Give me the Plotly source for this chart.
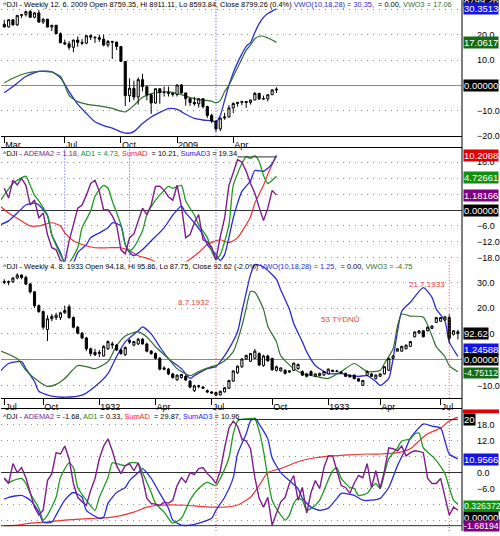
import plotly.graph_objects as go

W, H = 500, 536

# week index 0 = first bar of each price panel
# ^DJI weekly, 28.3.2008 - 12.6.2009
p1_weeks = list(range(64))
p1_open = [12361, 12216, 12609, 12325, 12849, 12891, 13058, 12745, 12986, 12480,
           12638, 12209, 12307, 11843, 11347, 11288, 11100, 11496, 11370, 11326,
           11734, 11659, 11628, 11543, 11220, 11421, 11388, 11143, 10325, 8451,
           8852, 8378, 9325, 8943, 8497, 8046, 8829, 8635, 8629, 8579,
           8515, 9034, 8599, 8281, 8077, 8001, 8280, 7850, 7366, 7063,
           6627, 7224, 7279, 7776, 8018, 8083, 8131, 8076, 8212, 8575,
           8268, 8277, 8500, 8759.35]
p1_high = [12600, 12650, 12640, 12870, 12900, 13100, 13140, 13030, 13140, 12700,
           12660, 12330, 12330, 11920, 11520, 11440, 11520, 11700, 11550, 11780,
           11810, 11680, 11800, 11790, 11500, 11450, 11400, 11150, 10330, 9400,
           9270, 9450, 9650, 9000, 8530, 8830, 8830, 8950, 8950, 8600,
           9070, 9090, 8610, 8300, 8380, 8300, 8320, 7900, 7460, 7070,
           7250, 7510, 7930, 8080, 8100, 8160, 8160, 8230, 8650, 8600,
           8450, 8520, 8800, 8911.11]
p1_low = [12200, 12180, 12300, 12270, 12700, 12790, 12700, 12690, 12450, 12380,
          12190, 11990, 11830, 11330, 11220, 10960, 10830, 11130, 11220, 11270,
          11500, 11340, 11400, 11150, 11100, 10460, 10950, 10300, 7880, 8100,
          8200, 7960, 8690, 8200, 7450, 8000, 8000, 8400, 8400, 8400,
          8400, 8550, 7900, 7900, 7900, 7800, 7750, 7230, 6950, 6470,
          6500, 7130, 7250, 7490, 7850, 7920, 7780, 7960, 8200, 8210,
          8220, 8140, 8480, 8593.84]
p1_close = [12216, 12609, 12325, 12849, 12891, 13058, 12745, 12986, 12480, 12638,
            12209, 12307, 11843, 11347, 11288, 11100, 11496, 11370, 11326, 11734,
            11659, 11628, 11543, 11220, 11421, 11388, 11143, 10325, 8451, 8852,
            8378, 9325, 8943, 8497, 8046, 8829, 8635, 8629, 8579, 8515,
            9034, 8599, 8281, 8077, 8001, 8280, 7850, 7366, 7063, 6627,
            7224, 7279, 7776, 8018, 8083, 8131, 8076, 8212, 8575, 8268,
            8277, 8500, 8764, 8799.26]

# ^DJI weekly, 31.7.1931 - 4.8.1933
p3_weeks = list(range(106))
p3_open = [136, 135.5, 136, 139, 141.5, 139.5, 134, 127.5, 116, 111,
           96, 105, 106, 106, 110, 115, 106, 98, 93, 89,
           80, 77, 76, 74, 80, 83, 83, 79, 75, 87,
           83, 84, 88, 84, 78, 76, 72, 64, 63, 59,
           54, 56, 57, 53, 45, 48.5, 48, 45, 44, 43.5,
           41.5, 44, 47, 53, 60, 65, 71.5, 69.5, 72, 76,
           66, 74, 72, 62, 61.5, 62, 60.5, 62, 63.5, 61,
           59, 61, 57, 57.5, 58, 59, 61, 61.5, 60.5, 59.5,
           58, 58, 55, 49.5, 58, 59, 55, 57, 59, 62,
           72, 78, 78, 80, 82, 90, 93, 95, 95, 97,
           102, 103, 104, 106, 92, 94.18]
p3_high = [138, 137, 140, 143, 142, 141, 135, 128, 117, 112,
           108, 109, 110, 111, 116, 117, 107, 99, 94, 90,
           81, 80, 79, 83, 87, 86, 84, 80, 82, 88,
           86.5, 89, 89, 85, 79, 77, 73, 65.5, 64, 60,
           58.5, 59, 58, 54, 50, 50, 49, 46, 44.5, 44,
           45, 48, 54, 62, 66, 72, 75, 76.5, 79.9, 77,
           75, 75, 72.5, 66, 64.5, 63, 62, 68.5, 67.5, 62,
           60, 62, 59.5, 60, 61.5, 63.5, 62.5, 62.5, 61.5, 60,
           58.5, 58.5, 55.5, 54, 62, 60, 58.5, 59.5, 65.5, 72.5,
           74.5, 80.5, 82.5, 83.5, 86.5, 94.5, 95.5, 95.5, 98.5, 99.5,
           106.5, 106.5, 107.5, 108.7, 95.5, 95.86]
p3_low = [134, 133, 135, 138, 138, 133, 126, 114, 110, 96,
          86.5, 103, 104, 104, 109, 105, 97, 92, 88, 78,
          73.8, 74, 73, 73.5, 79, 80, 78, 75, 74, 84,
          82, 83, 83.5, 77, 75, 71, 62, 62, 58, 55,
          53.5, 55, 53, 47, 44, 47, 46.5, 43, 42.5, 40.6,
          41, 43.5, 46.5, 52.5, 59, 64, 70.5, 69, 71.5, 65.5,
          65, 69, 61.5, 61, 61, 58.5, 60, 61.5, 62.5, 57.5,
          56, 57.5, 56.5, 57, 57.5, 58.5, 60.5, 60.5, 59.5, 56.5,
          56, 54.5, 52.5, 49, 57.5, 56.5, 54.5, 56.5, 58.5, 61.5,
          71.5, 77.5, 77.5, 79.5, 81.5, 89.5, 92.5, 89.5, 94.5, 96.5,
          101.5, 102.5, 103.5, 84.5, 91, 87.75]
p3_close = [135.5, 136, 139, 141.5, 139.5, 134, 127.5, 116, 111, 98,
            105, 107, 108, 110, 112, 106, 98, 93, 89, 80,
            76, 75, 77, 82, 86, 84, 79, 76, 81, 85.5,
            86, 88, 84, 78, 76, 72, 63, 63, 59, 56,
            58, 58.5, 54, 48, 49, 49, 47, 44, 43, 41.2,
            44.5, 47.5, 53.5, 61.5, 65.5, 71.5, 74.5, 76, 78, 66.5,
            74, 70, 62.5, 65, 64, 59.5, 61.5, 68, 67, 58,
            57, 58, 59, 59.5, 61, 63, 62, 61, 60, 57,
            56.5, 55, 53, 53.5, 61, 57, 58, 59, 65, 72,
            74, 80, 82, 83, 86, 94, 95, 90, 98, 99,
            106, 106, 106.5, 88.7, 95, 92.62]

p1_ticks = [0, 14, 27, 40, 53]
p1_tick_text = ["Mar", "Jul", "Oct", "2009", "Apr"]
p3_ticks = [0, 9, 22, 35, 48, 62, 75, 87, 101]
p3_tick_text = ["Jul", "Oct", "1932", "Apr", "Jul", "Oct", "1933", "Apr", "Jul"]

# VWO(10,18,28) and VWO3, 2008-09
p1_vwo_w = [0, 2, 5, 8, 11, 13, 15, 17, 19, 21, 23, 25, 27, 28, 29, 30, 32, 34, 36, 38,
            40, 42, 44, 46, 48, 49, 50, 51, 52, 53, 54, 55, 56, 57, 58, 59, 60, 61, 62, 63]
p1_vwo = [-3, -0.5, 3.5, 5.5, 5.3, 3, -2.5, -7.5, -11.2, -14.5, -16, -17, -18.5, -19, -19, -18.4,
          -15.2, -12.6, -10.8, -9.3, -9.6, -11.5, -13.2, -13.8, -14.1, -14.5, -12, -6, 0, 5,
          9, 12.5, 15.5, 17, 21, 24.5, 27, 28.5, 29.5, 30.35]
p1_vwo3_w = [0, 2, 5, 8, 11, 13, 14, 15, 16, 17, 19, 21, 23, 25, 27, 28, 29, 30, 32, 34, 36, 38,
             40, 42, 44, 46, 48, 49, 50, 51, 52, 53, 54, 55, 56, 57, 58, 59, 60, 61, 62, 63]
p1_vwo3 = [1, 2.8, 4.8, 5.5, 5.3, 3.5, 0, -4, -5.5, -6.5, -7.5, -8, -8.5, -9.2, -10.3, -10.6,
           -9.5, -8, -4.8, -3.3, -2.7, -2.6, -3.2, -4.3, -5.3, -5.9, -6.3, -7, -6, -2.5, 0,
           3.5, 7, 10.5, 14, 16, 18.5, 19.5, 19.5, 18.8, 18, 17.06]

# ADEMA2 / AD1 / SumAD / SumAD3, 2008-09
p2_adema2_w = list(range(64))
p2_adema2 = [8.2, 4.5, 11.2, 9.5, 11.9, 9.3, 1.9, 3.8, -3, -1.1,
             -9.2, -14.2, -15, -19, -19.8, -11.6, -5.6, 0.7, 1.9, 5.6,
             10, 11.2, 7, 0, 0.1, -2.2, -5.6, -15, -16.5, -10.4,
             -9, -3.7, 0.7, -1.7, 1.9, 8.9, 9, 7.4, 5, 3.7,
             9.3, 1.5, -10.4, -9.2, -4.8, -1.7, -11.2, -12, -14, -18.7,
             -10, -3, 9.3, 14, 19, 18, 14.6, 10, 6.3, 1,
             -4, 0.7, 7.4, 5.6]
p2_ad1_w = [-1, 1, 2, 3, 5, 6, 7, 8, 10, 11, 13, 14, 15, 17, 18, 20, 21, 23, 24, 25,
            27, 28, 29, 30, 32, 33, 35, 37, 38, 39, 41, 42, 44, 45, 47, 48, 49, 50, 52, 53,
            55, 56, 57, 58, 59, 60, 61, 62, 63]
p2_ad1 = [3.4, 8, 10, 11.2, 12.7, 9.3, 5.6, 3.4, -1.9, -9.3,
          -16.8, -19.8, -19.8, -14.2, -6.7, -0.4, 5.2, 9.3, 8.2, 3.4,
          -5.6, -13, -15.4, -14, -7.8, -1.9, 3.7, 7.4, 8.9, 8.2,
          9.3, 3.4, -1.9, -5.6, -10.4, -15.4, -18.7, -16.8, -5.6, 9.3,
          17.5, 20.1, 19.4, 20.5, 18.3, 13, 10, 11.2, 12.7]
p2_sumad_w = [-1, 1, 4, 6, 8, 11, 13, 14, 16, 18, 21, 24, 27, 29, 31, 34, 36, 39, 42, 45,
              47, 50, 52, 54, 57, 58, 60, 61, 63]
p2_sumad = [1.5, -1.1, -4.1, -6, -6, -4.8, -6, -8.6, -11.6, -13,
            -14.2, -14.2, -14.2, -15.4, -17.2, -18.7, -20.5, -21, -19.5, -16,
            -13, -11.2, -12.3, -10.4, -2.5, 2.6, 9.3, 13.5, 20.5]
p2_sumad3_w = [-1, 1, 3, 5, 7, 8, 10, 11, 13, 14, 16, 17, 19, 20, 22, 24, 25, 27, 28, 29,
               30, 32, 34, 37, 39, 41, 42, 44, 46, 47, 49, 50, 51, 52, 53, 54, 55, 57, 58, 60,
               61, 62, 63]
p2_sumad3 = [-5.6, -4.1, -1.1, 1.9, 2.6, 1.9, -2.2, -9.3, -16, -19.8,
             -19.8, -16, -13, -10.4, -8.6, -6.7, -4.8, -6, -13, -16,
             -17.2, -14.9, -11.6, -6.7, -1.9, 1.5, -1.1, -4.8, -9.3, -13,
             -16.8, -19, -16.8, -10.4, -3, 2.6, 7, 11, 14.9, 14.6,
             15.7, 17.5, 20.5]

# VWO(10,18,28) and VWO3, 1931-33
p3_vwo_w = [-1, 1, 4, 5, 7, 8, 11, 14, 18, 21, 24, 26, 28, 31, 32, 34, 36, 38, 41, 43,
            44, 47, 49, 50, 52, 54, 55, 56, 57, 58, 60, 63, 64, 66, 67, 69, 70, 72, 75, 78,
            80, 82, 84, 86, 87, 89, 90, 91, 92, 94, 97, 99, 100, 102, 103, 105]
p3_vwo = [-4.6, -1.5, -0.8, -3.5, -8.5, -12.3, -14.2, -14.6, -13.8, -10.4,
          -5.4, 1.2, 6.9, 11.2, 12.7, 10, 5, 0.4, -3.5, -7.3,
          -6.2, -3.5, -2.7, -0.8, 4.2, 10.8, 18.5, 26, 33, 36.9,
          36, 31.2, 27, 19.6, 14, 6.9, 3, -2.3, -5.4, -5.4,
          -6.2, -6.5, -6.2, -8.5, -10, -7.3, 0.4, 10.8, 18.8, 22.3,
          28, 24.2, 19.6, 15, 6.9, 1.25]
p3_vwo3_w = [-1, 3, 5, 8, 10, 12, 14, 17, 19, 21, 24, 26, 28, 31, 33, 35, 38, 40, 43, 45,
             48, 49, 51, 53, 55, 56, 57, 58, 60, 61, 63, 64, 67, 69, 72, 75, 78, 81, 84, 87,
             88, 90, 91, 92, 94, 97, 99, 100, 102, 103, 105]
p3_vwo3 = [3.5, 0.4, -4.2, -8.5, -10.4, -9.6, -7.3, -2.3, -2.7, -3.5,
           -0.8, 5.4, 9.2, 10.8, 8.8, 5, 0.4, -3.5, -6.2, -4.6,
           -2.7, -2.3, -0.4, 3.1, 13, 20, 26.5, 26.2, 19.6, 13,
           6.9, 1.5, -3.5, -5.4, -6.5, -7.3, -4.6, -1.5, -4.6, -4.2,
           -1.5, 4.2, 13, 17.7, 16.9, 16.5, 9.2, 5, 1.2, -2.3,
           -4.75]

# ADEMA2 / AD1 / SumAD / SumAD3, 1931-33
p4_adema2_w = list(range(106))
p4_adema2 = [-2.2, -4.1, 3.4, 0, 1.9, -1.9, -7.5, -13, -16, -14.2,
             -3, -0.4, 7.5, 7, 10, 5.2, -4.1, -9.3, -11, -12.3,
             -6.7, -2.2, 5.2, 10, 12.7, 8.2, 2.6, -0.4, 2.6, 3.4,
             0.7, 3.7, -2.2, -9.7, -11.6, -12, -12.3, -11.2, -11.5, -10.4,
             -4.9, -1.9, -3.7, 0, -0.8, 1.5, 1.9, -0.4, -1.9, -4.1,
             0.7, 9.3, 16.8, 19.4, 17.5, 12.7, 11.9, 9, -1.9, -9.7,
             -13, -9.3, -19.8, -15.3, -11, -9.3, -4.1, -1.1, -10.4, -5.6,
             -15.3, -7.5, -3, -6, 1.9, 6.3, 6.3, 0.7, -4.9, -5.6,
             -7.8, -4, -1.1, -1.9, 3.4, -5.6, 0.7, -6, 0.7, 9.3,
             9, 8.2, 10, 6.3, 7.5, 8.2, 8, 7.5, -2.2, -4.1,
             -4.1, -2.2, -8.6, -16, -13, -14.2]
p4_ad1_w = [0, 1, 2, 4, 5, 6, 8, 9, 10, 12, 13, 15, 16, 17, 19, 21, 22, 24, 25, 26,
            28, 29, 31, 32, 34, 35, 37, 39, 41, 43, 45, 47, 49, 50, 52, 53, 54, 55, 57, 58,
            59, 60, 61, 62, 64, 65, 66, 67, 68, 69, 70, 72, 73, 74, 76, 77, 78, 80, 81, 82,
            84, 85, 86, 87, 88, 89, 91, 92, 94, 95, 96, 97, 99, 100, 102, 103, 104, 105]
p4_ad1 = [-1.9, -3.7, -3, -2.2, -4.1, -7.8, -13.4, -17.9, -16, -9.3,
          -1.9, 3.7, 1.9, -5.6, -10.4, -14.2, -9.3, -1.9, 3.7, 3.4,
          2.6, 3.7, 3.4, 0, -7.5, -11.6, -14.9, -19, -17.2, -10.4,
          -6, -3.7, -4.9, -2.2, 5.6, 14.6, 19.4, 20.1, 20.3, 20.3,
          15.7, 8.2, -1.9, -10.4, -16, -17.9, -16, -11.6, -9.7, -10.4,
          -14.2, -12.3, -10.4, -6.7, 0.7, 1.9, -2.2, -5.6, -6, -8.6,
          -7.8, -5.6, -4.1, -6, -0.4, 5.2, 9.3, 11.9, 12.7, 14.6,
          14.9, 9.3, 6.3, 4.5, -0.4, -5.6, -10.4, -11.9]
p4_sumad_w = [0, 3, 6, 9, 14, 21, 25, 30, 33, 36, 42, 45, 48, 51, 54, 56, 57, 59, 61, 64,
              68, 72, 76, 80, 84, 87, 91, 94, 96, 98, 101, 103, 105]
p4_sumad = [-20, -19.8, -19, -18.7, -17.9, -17.2, -16.8, -14.9, -13, -12.3,
            -12.3, -12.7, -13, -13, -12.3, -10.4, -9.3, -4.9, 0, 1.5,
            4.1, 5.6, 6.3, 6.7, 7, 7, 7.5, 9, 11.9, 14.6, 16.8, 19.4, 20.9]
p4_sumad3_w = [0, 1, 4, 6, 8, 9, 11, 12, 14, 16, 18, 19, 22, 23, 24, 26, 28, 29, 31, 32,
               34, 36, 38, 39, 41, 43, 45, 48, 49, 51, 53, 54, 56, 57, 58, 59, 61, 62, 64, 66,
               68, 69, 71, 73, 75, 77, 78, 81, 83, 85, 87, 89, 91, 93, 94, 97, 99, 101, 102, 103,
               105]
p4_sumad3 = [-10, -9.3, -8.6, -10.4, -14.9, -18.7, -18.7, -16, -10.4, -7.5,
             -9.3, -14.2, -17.2, -16.8, -11.6, -7.5, -5.6, -3, 0, 1.5,
             -2.2, -7.8, -13.4, -17.9, -19.8, -19.8, -19, -17.2, -14.2, -9.3,
             -1.9, 7, 14.6, 19.5, 20.5, 18.3, 12.7, 5.6, 0, -3,
             -6, -9.7, -13, -14.2, -13.4, -9.7, -7.8, -8.6, -10.4, -10.4,
             -9.7, -5.6, 2.6, 9.3, 13, 18.3, 17.5, 16.8, 11.9, 7,
             5.2]

p1_marks = [49]
p2_marks = [14, 29, 49]
p3_marks = [49, 103]
p2_level_from = 54
p4_level_from = 54

VWO_BLUE = "#2c2cd2"
VWO3_GREEN = "#2f6e2f"
PURPLE = "#7e1d8e"
AD_GREEN = "#1f9a1f"
RED = "#f03232"
SUM_BLUE = "#2a2ae0"

SANS = "Liberation Sans, Arial, sans-serif"
TXT = 7.4


def fy(px):
    return 1 - px / H


def line(xs, ys, color, xa, ya, width=1.3, shape="spline"):
    return go.Scatter(x=xs, y=ys, mode="lines", xaxis=xa, yaxis=ya,
                      line=dict(color=color, width=width, shape=shape, smoothing=0.6),
                      showlegend=False, hoverinfo="skip")


def candles(xs, o, h, l, c, xa, ya):
    return go.Candlestick(x=xs, open=o, high=h, low=l, close=c, xaxis=xa, yaxis=ya,
                          increasing=dict(line=dict(color="black", width=1), fillcolor="white"),
                          decreasing=dict(line=dict(color="black", width=1), fillcolor="black"),
                          whiskerwidth=0, showlegend=False, hoverinfo="skip")


fig = go.Figure()

# panel 1
fig.add_trace(line(p1_vwo_w, p1_vwo, VWO_BLUE, "x", "y"))
fig.add_trace(line(p1_vwo3_w, p1_vwo3, VWO3_GREEN, "x", "y", 1.2))
fig.add_trace(candles(p1_weeks, p1_open, p1_high, p1_low, p1_close, "x", "y5"))

# panel 2
fig.add_trace(line(p2_sumad_w, p2_sumad, RED, "x2", "y2", 1.2))
fig.add_trace(line(p2_sumad3_w, p2_sumad3, SUM_BLUE, "x2", "y2"))
fig.add_trace(line(p2_ad1_w, p2_ad1, AD_GREEN, "x2", "y2"))
fig.add_trace(line(p2_adema2_w, p2_adema2, PURPLE, "x2", "y2", 1.4, "linear"))

# panel 3
fig.add_trace(line(p3_vwo_w, p3_vwo, VWO_BLUE, "x3", "y3"))
fig.add_trace(line(p3_vwo3_w, p3_vwo3, VWO3_GREEN, "x3", "y3", 1.2))
fig.add_trace(candles(p3_weeks, p3_open, p3_high, p3_low, p3_close, "x3", "y6"))

# panel 4
fig.add_trace(line(p4_sumad_w, p4_sumad, RED, "x4", "y4", 1.2))
fig.add_trace(line(p4_sumad3_w, p4_sumad3, SUM_BLUE, "x4", "y4"))
fig.add_trace(line(p4_ad1_w, p4_ad1, AD_GREEN, "x4", "y4"))
fig.add_trace(line(p4_adema2_w, p4_adema2, PURPLE, "x4", "y4", 1.4, "linear"))

xdom = [1 / W, 462 / W]
xrange = [-0.76, 105.95]


def xaxis(anchor, ticks=None, text=None, side="bottom"):
    ax = dict(domain=xdom, anchor=anchor, range=xrange, showgrid=False, zeroline=False,
              showline=True, linecolor="black", linewidth=1, side=side,
              rangeslider=dict(visible=False), fixedrange=True)
    if ticks:
        ax.update(tickmode="array", tickvals=ticks, ticktext=text, ticks="outside",
                  ticklen=6, tickcolor="black", ticklabelposition="outside right",
                  tickfont=dict(family=SANS, size=9, color="black"))
    else:
        ax.update(showticklabels=False, ticks="")
    return ax


def yaxis(anchor, dom, rng, ticks, zc):
    return dict(domain=dom, anchor=anchor, range=rng, side="right",
                tickmode="array", tickvals=ticks, tickformat=".1f", ticks="",
                ticklabelstandoff=14, tickfont=dict(family=SANS, size=9, color="black"),
                showgrid=True, gridcolor="#8c8c8c", gridwidth=1, griddash="1px,5px",
                zeroline=True, zerolinecolor=zc, zerolinewidth=1, showline=False,
                fixedrange=True)


osc_ticks = [-18, -12, -6, 0, 6, 12, 18]
fig.update_layout(
    width=W, height=H, margin=dict(l=0, r=0, t=0, b=0),
    paper_bgcolor="white", plot_bgcolor="white", showlegend=False, hovermode=False,
    xaxis=xaxis("y", p1_ticks, p1_tick_text),
    xaxis2=xaxis("y2", side="top"),
    xaxis3=xaxis("y3", p3_ticks, p3_tick_text),
    xaxis4=xaxis("y4", side="top"),
    yaxis=yaxis("x", [fy(137), fy(0)], [-20.05, 33.9], [-20, -10, 0, 10, 20, 30], "#8a8a8a"),
    yaxis2=yaxis("x2", [fy(264), fy(149)], [-19.4, 23.5], osc_ticks, "#303030"),
    yaxis3=yaxis("x3", [fy(402), fy(264)], [-15, 38.1], [-10, 0, 10, 20, 30], "#8a8a8a"),
    yaxis4=yaxis("x4", [fy(536), fy(413)], [-22, 23.9], osc_ticks, "#303030"),
    yaxis5=dict(overlaying="y", anchor="x", range=[6253, 13692], visible=False, fixedrange=True),
    yaxis6=dict(overlaying="y3", anchor="x3", range=[38.7, 152.8], visible=False, fixedrange=True),
)

shapes = [dict(type="line", xref="paper", yref="paper", x0=462 / W, x1=462 / W, y0=0, y1=1,
               line=dict(color="black", width=1))]
for w in p1_marks:
    shapes.append(dict(type="line", xref="x", yref="y domain", x0=w, x1=w, y0=0, y1=1,
                       line=dict(color="#3a3aff", width=1, dash="1px,2px")))
for w in p2_marks:
    shapes.append(dict(type="line", xref="x2", yref="y2 domain", x0=w, x1=w, y0=0, y1=1,
                       line=dict(color="#3a3aff", width=1, dash="1px,2px")))
for w in p3_marks:
    for xa, ya in (("x3", "y3 domain"), ("x4", "y4 domain")):
        shapes.append(dict(type="line", xref=xa, yref=ya, x0=w, x1=w, y0=0, y1=1,
                           line=dict(color="#f04040", width=1, dash="1px,2px")))
shapes.append(dict(type="line", xref="x2", yref="y2", x0=p2_level_from, x1=p1_weeks[-1],
                   y0=20, y1=20, line=dict(color="#303030", width=1)))
shapes.append(dict(type="line", xref="x4", yref="y4", x0=p4_level_from, x1=p3_weeks[-1],
                   y0=20, y1=20, line=dict(color="#303030", width=1)))
shapes.append(dict(type="line", xref="x4 domain", yref="y4", x0=0, x1=1, y0=-20, y1=-20,
                   line=dict(color="#303030", width=1)))
shapes.append(dict(type="rect", xref="paper", yref="y4", x0=463 / W, x1=499 / W, y0=22.4, y1=23.9,
                   fillcolor="#e00000", line=dict(width=0)))
fig.update_layout(shapes=shapes)


def span(text, color):
    return f"<span style='color:{color}'>{text}</span>"


NB = "\u00a0"
titles = [
    (5, "^DJI - Weekly 12. 6. 2009 Open 8759.35, Hi 8911.11, Lo 8593.84, Close 8799.26 (0.4%) "
        + span("VWO(10,18,28) = 30.35,", VWO_BLUE) + NB + NB + "= 0.00, " + span("VWO3 = 17.06", VWO3_GREEN)),
    (155, "^DJI - " + span("ADEMA2 = 1.18,", PURPLE) + " " + span("AD1 = 4.73,", "#109010") + " "
          + span("SumAD", "#ff2020") + NB + " = 10.21, " + span("SumAD3", "#2020ff") + " = 19.34"),
    (269, "^DJI - Weekly 4. 8. 1933 Open 94.18, Hi 95.86, Lo 87.75, Close 92.62 (-2.0%) "
          + span("VWO(10,18,28) = 1.25,", VWO_BLUE) + NB + NB + "= 0.00, " + span("VWO3 = -4.75", VWO3_GREEN)),
    (420, "^DJI - " + span("ADEMA2", PURPLE) + " = -1.68, " + span("AD1", "#109010") + " = 0.33, "
          + span("SumAD", "#ff2020") + NB + " = 29.87, " + span("SumAD3", "#2020ff") + " = 10.96"),
]
annotations = []
for py, text in titles:
    annotations.append(dict(text=text, xref="paper", yref="paper", x=1 / W, y=fy(py),
                            xanchor="left", yanchor="middle", showarrow=False,
                            font=dict(family=SANS, size=TXT, color="black")))

# event notes in the 1931-33 panel
annotations += [
    dict(text="8.7.1932", xref="x3", yref="y3 domain", x=p3_marks[0], y=0.745, xanchor="right",
         xshift=-4, showarrow=False, font=dict(family=SANS, size=TXT + 0.6, color="#e84040")),
    dict(text="21.7.1933", xref="x3", yref="y3 domain", x=p3_marks[1], y=0.88, xanchor="right",
         xshift=-2, showarrow=False, font=dict(family=SANS, size=TXT + 0.6, color="#e84040")),
    dict(text="53 TÝDNŮ", xref="x3", yref="y3 domain", x=(p3_marks[0] + p3_marks[1]) / 2, y=0.575,
         xanchor="center", xshift=8, showarrow=False, font=dict(family=SANS, size=TXT + 0.6, color="#e84040")),
]


def box(text, yref, y, bg, size=9.5):
    return dict(text=text, xref="paper", x=463 / W, xanchor="left", yref=yref, y=y,
                yanchor="middle", showarrow=False, bgcolor=bg, borderpad=0,
                font=dict(family=SANS, size=size, color="white"))


annotations += [
    box("8799.26", "paper", 1.0, "black"),
    box("30.3513", "y", p1_vwo[-1], "#1414e8"),
    box("17.0617", "y", p1_vwo3[-1], "#166b16"),
    box("0.00000", "y", 0, "black"),
    box("10.2088", "y2", p2_sumad[-1], "#e00000"),
    box("4.72661", "y2", p2_ad1[-1] - 0.4, "#109010"),
    box("1.18166", "y2", p2_adema2[-1], "#800080"),
    box("0.00000", "y2", 0, "black"),
    box("92.62", "y6", p3_close[-1], "black"),
    box("1.24588", "y3", 3.8, "#1414e8"),
    box("0.00000", "y3", 0, "black"),
    box("-4.75112", "y3", p3_vwo3[-1] - 0.3, "#166b16", 8.8),
    box("20", "y4", 20, "black"),
    box("10.9566", "y4", p4_sumad3[-1] - 0.3, "#1414e8"),
    box("0.326372", "y4", -12.7, "#109010", 8.8),
    box("0.00000", "y4", -16.8, "black"),
    box("-1.68194", "y4", -20, "#800080", 8.8),
]
fig.update_layout(annotations=annotations)

# the page body has a default 8px margin; drop it so the chart sits at the window corner
fig.write_html("out.html", config={"displayModeBar": False},
               post_script="document.body.style.margin='0px';")
